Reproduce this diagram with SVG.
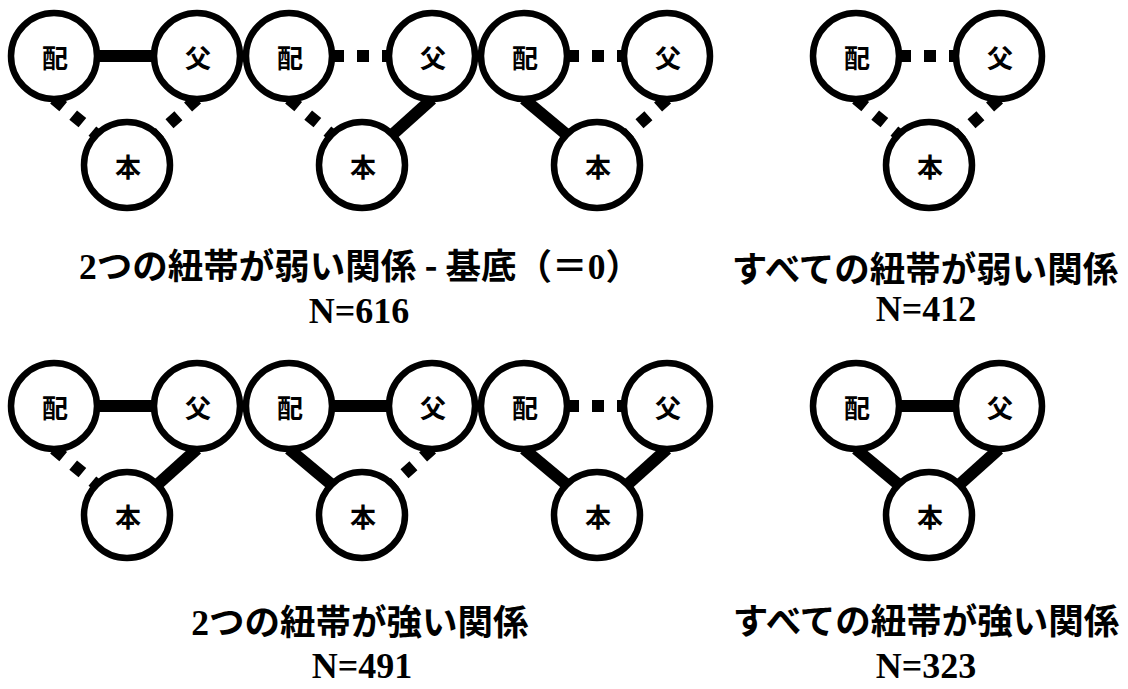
<svg xmlns="http://www.w3.org/2000/svg" width="1128" height="689" viewBox="0 0 1128 689">
<style>
.bg{fill:#fff}
.node circle{fill:#fff;stroke:#000;stroke-width:6.5}
.node text{font-family:"Noto Sans CJK JP","Noto Sans CJK SC",sans-serif;font-weight:bold;font-size:26px;text-anchor:middle;fill:#000}
.solid{stroke:#000;stroke-width:12;fill:none}
.dot{stroke:#000;stroke-width:12;fill:none;stroke-dasharray:12 13}
.title{font-family:"Noto Sans CJK JP","Noto Sans CJK SC",sans-serif;font-weight:bold;font-size:35.5px;text-anchor:middle;fill:#000}
.lat{font-family:"Liberation Serif",serif;font-weight:bold}
.n{font-family:"Liberation Serif",serif;font-weight:bold;font-size:36px;text-anchor:middle;fill:#000}
</style>
<rect class="bg" x="0" y="0" width="1128" height="689"/>
<g id="connectors">
<line class="solid" x1="97" y1="56" x2="154" y2="56"/>
<line class="dot" x1="54" y1="99" x2="96.6" y2="134.6"/>
<line class="dot" x1="197" y1="99" x2="157.4" y2="134.6"/>
<line class="dot" x1="332" y1="56" x2="389" y2="56"/>
<line class="dot" x1="289" y1="99" x2="331.6" y2="134.6"/>
<line class="solid" x1="432" y1="99" x2="392.4" y2="134.6"/>
<line class="dot" x1="567" y1="56" x2="624" y2="56"/>
<line class="solid" x1="524" y1="99" x2="566.6" y2="134.6"/>
<line class="dot" x1="667" y1="99" x2="627.4" y2="134.6"/>
<line class="dot" x1="899" y1="56" x2="956" y2="56"/>
<line class="dot" x1="856" y1="99" x2="898.6" y2="134.6"/>
<line class="dot" x1="999" y1="99" x2="959.4" y2="134.6"/>
<line class="solid" x1="97" y1="406" x2="154" y2="406"/>
<line class="dot" x1="54" y1="449" x2="96.6" y2="484.6"/>
<line class="solid" x1="197" y1="449" x2="157.4" y2="484.6"/>
<line class="solid" x1="332" y1="406" x2="389" y2="406"/>
<line class="solid" x1="289" y1="449" x2="331.6" y2="484.6"/>
<line class="dot" x1="432" y1="449" x2="392.4" y2="484.6"/>
<line class="dot" x1="567" y1="406" x2="624" y2="406"/>
<line class="solid" x1="524" y1="449" x2="566.6" y2="484.6"/>
<line class="solid" x1="667" y1="449" x2="627.4" y2="484.6"/>
<line class="solid" x1="899" y1="406" x2="956" y2="406"/>
<line class="solid" x1="856" y1="449" x2="898.6" y2="484.6"/>
<line class="solid" x1="999" y1="449" x2="959.4" y2="484.6"/>
</g>
<g id="t1-hai" class="node"><circle cx="54" cy="56" r="43"/><text x="55" y="68">配</text></g>
<g id="t1-chichi" class="node"><circle cx="197" cy="56" r="43"/><text x="198" y="68">父</text></g>
<g id="t1-hon" class="node"><circle cx="127" cy="165" r="43"/><text x="128" y="177">本</text></g>
<g id="t2-hai" class="node"><circle cx="289" cy="56" r="43"/><text x="290" y="68">配</text></g>
<g id="t2-chichi" class="node"><circle cx="432" cy="56" r="43"/><text x="433" y="68">父</text></g>
<g id="t2-hon" class="node"><circle cx="362" cy="165" r="43"/><text x="363" y="177">本</text></g>
<g id="t3-hai" class="node"><circle cx="524" cy="56" r="43"/><text x="525" y="68">配</text></g>
<g id="t3-chichi" class="node"><circle cx="667" cy="56" r="43"/><text x="668" y="68">父</text></g>
<g id="t3-hon" class="node"><circle cx="597" cy="165" r="43"/><text x="598" y="177">本</text></g>
<g id="t4-hai" class="node"><circle cx="856" cy="56" r="43"/><text x="857" y="68">配</text></g>
<g id="t4-chichi" class="node"><circle cx="999" cy="56" r="43"/><text x="1000" y="68">父</text></g>
<g id="t4-hon" class="node"><circle cx="929" cy="165" r="43"/><text x="930" y="177">本</text></g>
<g id="b1-hai" class="node"><circle cx="54" cy="406" r="43"/><text x="55" y="418">配</text></g>
<g id="b1-chichi" class="node"><circle cx="197" cy="406" r="43"/><text x="198" y="418">父</text></g>
<g id="b1-hon" class="node"><circle cx="127" cy="515" r="43"/><text x="128" y="527">本</text></g>
<g id="b2-hai" class="node"><circle cx="289" cy="406" r="43"/><text x="290" y="418">配</text></g>
<g id="b2-chichi" class="node"><circle cx="432" cy="406" r="43"/><text x="433" y="418">父</text></g>
<g id="b2-hon" class="node"><circle cx="362" cy="515" r="43"/><text x="363" y="527">本</text></g>
<g id="b3-hai" class="node"><circle cx="524" cy="406" r="43"/><text x="525" y="418">配</text></g>
<g id="b3-chichi" class="node"><circle cx="667" cy="406" r="43"/><text x="668" y="418">父</text></g>
<g id="b3-hon" class="node"><circle cx="597" cy="515" r="43"/><text x="598" y="527">本</text></g>
<g id="b4-hai" class="node"><circle cx="856" cy="406" r="43"/><text x="857" y="418">配</text></g>
<g id="b4-chichi" class="node"><circle cx="999" cy="406" r="43"/><text x="1000" y="418">父</text></g>
<g id="b4-hon" class="node"><circle cx="929" cy="515" r="43"/><text x="930" y="527">本</text></g>
<g id="labels">
<text class="title" x="360" y="279"><tspan class="lat">2</tspan>つの紐帯が弱い関係 - 基底（＝<tspan class="lat">0</tspan>）</text>
<text class="n" x="359" y="323">N=616</text>
<text class="title" x="925" y="282">すべての紐帯が弱い関係</text>
<text class="n" x="926" y="321">N=412</text>
<text class="title" x="360" y="635"><tspan class="lat">2</tspan>つの紐帯が強い関係</text>
<text class="n" x="362" y="678">N=491</text>
<text class="title" x="926" y="634">すべての紐帯が強い関係</text>
<text class="n" x="926" y="678">N=323</text>
</g>
</svg>
